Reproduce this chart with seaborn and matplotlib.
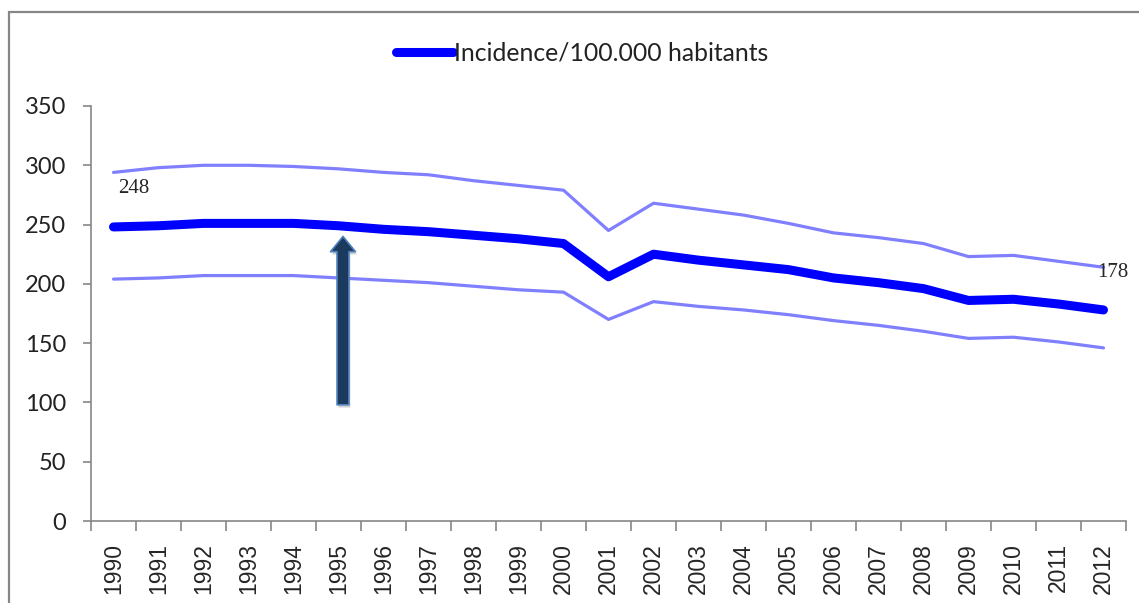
import numpy as np
import pandas as pd
import matplotlib.pyplot as plt
import matplotlib.patheffects as pe
from matplotlib.patches import Rectangle
import seaborn as sns

years = [str(y) for y in range(1990, 2013)]
incidence = [248, 249, 251, 251, 251, 249, 246, 244, 241, 238, 234, 206,
             225, 220, 216, 212, 205, 201, 196, 186, 187, 183, 178]
upper = [294, 298, 300, 300, 299, 297, 294, 292, 287, 283, 279, 245,
         268, 263, 258, 251, 243, 239, 234, 223, 224, 219, 214]
lower = [204, 205, 207, 207, 207, 205, 203, 201, 198, 195, 193, 170,
         185, 181, 178, 174, 169, 165, 160, 154, 155, 151, 146]
legend_label = "Incidence/100.000 habitants"

# arrow annotation (year, from, to)
arrow_year = "1995"
arrow_from = 98
arrow_to = 240

df = pd.DataFrame({"year": years, "incidence": incidence, "upper": upper, "lower": lower})
df["pos"] = np.arange(len(df))

sns.set_style("ticks")
plt.rcParams["font.family"] = ["Liberation Sans", "DejaVu Sans"]

fig = plt.figure(figsize=(11.39, 6.03), dpi=100)
ax = fig.add_axes([91 / 1139, 1 - 521 / 603, (1126 - 91) / 1139, (521 - 106) / 603])

sns.lineplot(data=df, x="pos", y="upper", color="#8080ff", linewidth=2.3, ax=ax)
sns.lineplot(data=df, x="pos", y="lower", color="#8080ff", linewidth=2.3, ax=ax)
sns.lineplot(data=df, x="pos", y="incidence", color="#0000ff", linewidth=6.5,
             solid_capstyle="round", label=legend_label, ax=ax)

ax.set_xlim(-0.5, len(years) - 0.5)
ax.set_ylim(0, 350)
ax.set_yticks(range(0, 351, 50))
ax.set_xticks(df["pos"])
ax.set_xticklabels(years, rotation=90, fontsize=16.5)
ax.set_xticks(np.arange(-0.5, len(years), 1), minor=True)
ax.tick_params(axis="x", which="major", length=0, pad=16)
ax.tick_params(axis="x", which="minor", length=7, width=1.2, color="#868686")
ax.tick_params(axis="y", length=6, width=1.2, color="#868686", pad=12)
for lab in ax.get_yticklabels():
    lab.set_family(["Lato", "DejaVu Sans"])
    lab.set_fontsize(17)
    lab.set_color("#222222")
ax.set_xlabel("")
ax.set_ylabel("")
ax.grid(False)
for side in ["top", "right"]:
    ax.spines[side].set_visible(False)
for side in ["left", "bottom"]:
    ax.spines[side].set_color("#868686")
    ax.spines[side].set_linewidth(1.2)

# value labels at ends
ax.annotate(str(incidence[0]), xy=(0, incidence[0]), xytext=(3.6, 28),
            textcoords="offset points", ha="left", va="center",
            fontsize=15, family=["Liberation Serif", "DejaVu Serif"])
ax.annotate(str(incidence[-1]), xy=(len(years) - 1, incidence[-1]), xytext=(-4.3, 27),
            textcoords="offset points", ha="left", va="center",
            fontsize=15, family=["Liberation Serif", "DejaVu Serif"])

# arrow
ax_x = years.index(arrow_year) + 0.1
ax.annotate("", xy=(ax_x, arrow_to), xytext=(ax_x, arrow_from),
            arrowprops=dict(arrowstyle="simple,head_length=0.55,head_width=0.9,tail_width=0.43",
                            mutation_scale=20, fc="#1b3a5e", ec="#4f81bd", lw=1.2,
                            shrinkA=0, shrinkB=0,
                            path_effects=[pe.SimplePatchShadow(offset=(1, -2), shadow_rgbFace="gray", alpha=0.35),
                                          pe.Normal()]))

handles, labels = ax.get_legend_handles_labels()
leg = ax.legend(handles, labels, loc="center", bbox_to_anchor=(0.511, 0.912),
                bbox_transform=fig.transFigure, frameon=False, handlelength=2.3,
                handletextpad=0.05, prop={"family": ["Lato", "DejaVu Sans"], "size": 17.8})
for t in leg.get_texts():
    t.set_color("#222222")

# outer border
fig.add_artist(Rectangle((9 / 1139, -0.1), 1.2, 1.1 - 12 / 603, transform=fig.transFigure,
                         fill=False, ec="#878787", lw=1.6))

fig.savefig("out.png", dpi=100, facecolor="white")
